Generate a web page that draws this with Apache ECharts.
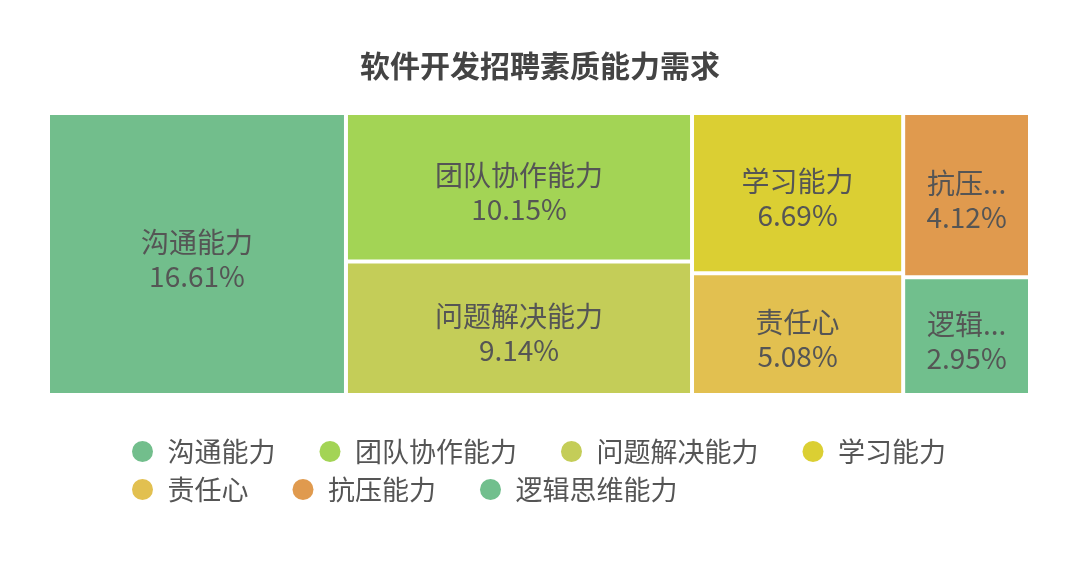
<!DOCTYPE html>
<html>
<head>
<meta charset="utf-8">
<script src="https://cdn.jsdelivr.net/npm/echarts@6/dist/echarts.min.js"></script>
<style>
  html, body { margin: 0; padding: 0; background: #fff; }
  #main { width: 1080px; height: 571px; }
</style>
</head>
<body>
<div id="main"></div>
<script>
// 能力名称 / 占比(%)
var categories = ['沟通能力', '团队协作能力', '问题解决能力', '学习能力', '责任心', '抗压能力', '逻辑思维能力'];
var values = [16.61, 10.15, 9.14, 6.69, 5.08, 4.12, 2.95];
var colors = ['#72be8c', '#a3d455', '#c4cd58', '#dbcf33', '#e2c050', '#e09a4e', '#71bf8d'];

var myChart = echarts.init(document.getElementById('main'));

var treeData = categories.map(function (name, i) {
  return { name: name, value: values[i], itemStyle: { color: colors[i] } };
});

var legendStyle = {
  left: 127,
  orient: 'horizontal',
  icon: 'circle',
  itemWidth: 40,
  itemHeight: 21,
  itemGap: 44,
  textStyle: {
    fontSize: 27,
    color: '#555',
    fontFamily: 'Noto Sans CJK SC'
  }
};

var option = {
  title: {
    text: '软件开发招聘素质能力需求',
    left: 'center',
    top: 46,
    textStyle: {
      fontSize: 30,
      fontWeight: 'bold',
      color: '#444',
      fontFamily: 'Noto Sans CJK SC'
    }
  },
  legend: [
    echarts.util.extend({ top: 433, data: categories.slice(0, 4) }, legendStyle),
    echarts.util.extend({ top: 471, data: categories.slice(4) }, legendStyle)
  ],
  series: [
    {
      // 只用于图例
      type: 'pie',
      radius: [0, 0],
      center: [-100, -100],
      silent: true,
      label: { show: false },
      labelLine: { show: false },
      data: treeData
    },
    {
      type: 'treemap',
      left: 50,
      top: 115,
      width: 978,
      height: 278,
      roam: false,
      nodeClick: false,
      breadcrumb: { show: false },
      squareRatio: 0.5 * (1 + Math.sqrt(5)),
      levels: [
        { itemStyle: { borderWidth: 0, gapWidth: 4 } }
      ],
      label: {
        show: true,
        position: 'inside',
        offset: [0, 5],
        formatter: '{b}\n{c}%',
        fontSize: 28,
        lineHeight: 34,
        padding: [0, 10, 0, 10],
        color: '#555',
        align: 'center',
        fontFamily: 'Noto Sans CJK SC'
      },
      itemStyle: { borderWidth: 0 },
      data: treeData
    }
  ]
};

myChart.setOption(option);
</script>
</body>
</html>
